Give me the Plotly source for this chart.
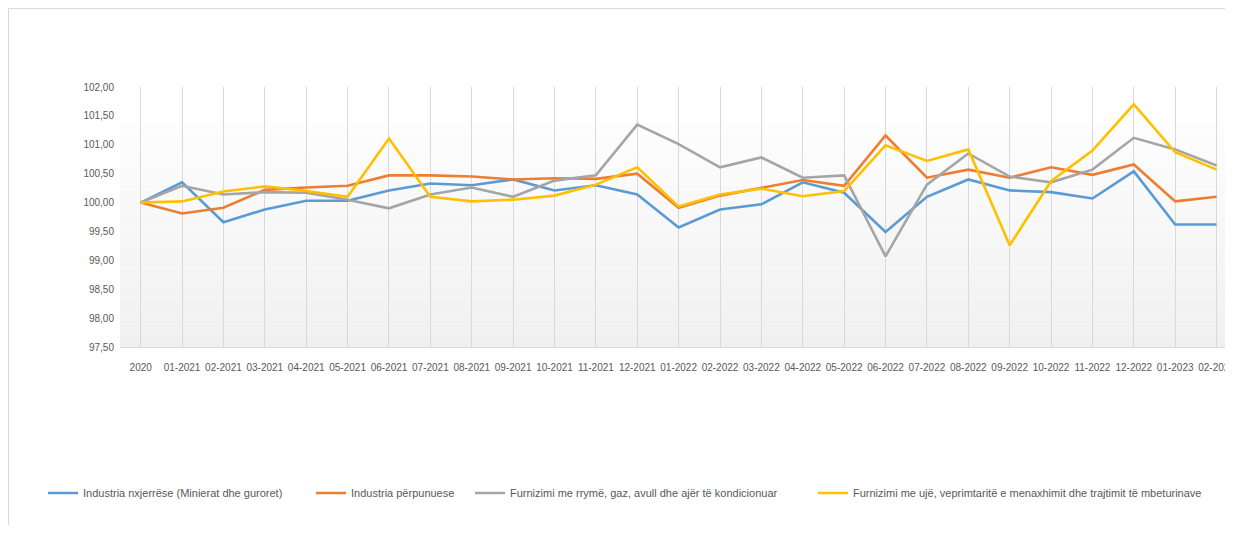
import plotly.graph_objects as go

categories = ["2020",
              "01-2021", "02-2021", "03-2021", "04-2021", "05-2021", "06-2021",
              "07-2021", "08-2021", "09-2021", "10-2021", "11-2021", "12-2021",
              "01-2022", "02-2022", "03-2022", "04-2022", "05-2022", "06-2022",
              "07-2022", "08-2022", "09-2022", "10-2022", "11-2022", "12-2022",
              "01-2023", "02-2023"]

nxjerrese = [100.00, 100.35, 99.66, 99.88, 100.03, 100.03, 100.21, 100.33, 100.30,
             100.40, 100.21, 100.30, 100.14, 99.57, 99.88, 99.97, 100.35, 100.17,
             99.49, 100.10, 100.40, 100.21, 100.18, 100.07, 100.54, 99.62, 99.62]

perpunuese = [100.00, 99.81, 99.91, 100.22, 100.26, 100.29, 100.47, 100.47, 100.45,
              100.40, 100.42, 100.41, 100.50, 99.91, 100.12, 100.26, 100.39, 100.29,
              101.16, 100.43, 100.57, 100.43, 100.61, 100.48, 100.66, 100.02, 100.10]

rryme = [100.00, 100.29, 100.14, 100.18, 100.17, 100.05, 99.90, 100.14, 100.26,
         100.10, 100.38, 100.47, 101.35, 101.01, 100.61, 100.78, 100.43, 100.47,
         99.07, 100.31, 100.85, 100.45, 100.35, 100.57, 101.12, 100.92, 100.64]

uje = [100.00, 100.02, 100.19, 100.28, 100.20, 100.10, 101.11, 100.10, 100.02,
       100.05, 100.12, 100.31, 100.61, 99.93, 100.14, 100.24, 100.11, 100.20,
       100.99, 100.72, 100.92, 99.26, 100.37, 100.90, 101.70, 100.87, 100.57]

series_names = ["Industria nxjerrëse (Minierat dhe guroret)",
                "Industria përpunuese",
                "Furnizimi me rrymë, gaz, avull dhe ajër të kondicionuar",
                "Furnizimi me ujë, veprimtaritë e menaxhimit dhe trajtimit të mbeturinave"]
series_values = [nxjerrese, perpunuese, rryme, uje]
series_colors = ["#5B9BD5", "#ED7D31", "#A5A5A5", "#FFC000"]
legend_text_x = [83, 351, 510, 853]   # page x where each legend text starts

OFF = 8  # page body margin
W, H = 1233 - OFF, 533 - 2 * OFF
FONT = "Liberation Sans, Arial, sans-serif"
TXT = "#595959"

# plot-area geometry in page pixels
PL, PT, PB = 120, 87, 347
STEP = 41.38
L = PL - OFF
T = PT - OFF
B = PB - OFF
dom_w = W - L
x_end = -0.5 + dom_w / STEP

fig = go.Figure()
legend_ids = ["legend", "legend2", "legend3", "legend4"]
for name, vals, col, lg in zip(series_names, series_values, series_colors, legend_ids):
    fig.add_trace(go.Scatter(x=categories, y=vals, mode="lines", name=name,
                             line=dict(color=col, width=2.6), legend=lg))

# gradient plot-area background
shapes = []
g_top, g_bot = 101.375, 97.5
n = 40
for i in range(n):
    y0 = g_bot + (g_top - g_bot) * i / n
    y1 = g_bot + (g_top - g_bot) * (i + 1) / n
    t = i / (n - 1)
    c = int(round(240 + (253 - 240) * t))
    shapes.append(dict(type="rect", xref="x domain", yref="y", x0=0, x1=1, y0=y0, y1=y1,
                       fillcolor=f"rgb({c},{c},{c})", line=dict(width=0), layer="below"))

# outer chart border (top and left visible)
def fx(p):
    return (p - L) / dom_w

def fy(p):
    return (B - p) / (B - T)

shapes.append(dict(type="line", xref="paper", yref="paper", x0=fx(0.5), x1=fx(W + 5),
                   y0=fy(0.5), y1=fy(0.5), line=dict(color="#d9d9d9", width=1)))
shapes.append(dict(type="line", xref="paper", yref="paper", x0=fx(0.5), x1=fx(0.5),
                   y0=fy(0.5), y1=fy(H + 5), line=dict(color="#d9d9d9", width=1)))

layout_legends = {}
for lg, tx in zip(legend_ids, legend_text_x):
    layout_legends[lg] = dict(orientation="h", xref="container", yref="container",
                              x=(tx - 40 - OFF) / W, xanchor="left",
                              y=(H - (493 - OFF)) / H, yanchor="middle",
                              bgcolor="rgba(0,0,0,0)",
                              font=dict(family=FONT, size=11, color=TXT))

fig.update_layout(
    width=W, height=H,
    margin=dict(l=L, r=0, t=T, b=H - B, autoexpand=False),
    paper_bgcolor="white", plot_bgcolor="white",
    separators=",.",
    font=dict(family=FONT, size=10, color=TXT),
    shapes=shapes,
    showlegend=True,
    **layout_legends,
)
fig.update_xaxes(type="category", range=[-0.5, x_end], showgrid=True, gridcolor="#d9d9d9",
                 gridwidth=1, showline=True, linecolor="#d9d9d9", linewidth=1,
                 ticks="", tickangle=0, ticklabelstandoff=11, zeroline=False,
                 tickfont=dict(family=FONT, size=10, color=TXT))
fig.update_yaxes(range=[97.5, 102], dtick=0.5, tick0=97.5, tickformat=".2f",
                 showgrid=False, showline=False, zeroline=False, ticks="",
                 ticklabelstandoff=5,
                 tickfont=dict(family=FONT, size=10, color=TXT))

fig.write_html("out.html")
